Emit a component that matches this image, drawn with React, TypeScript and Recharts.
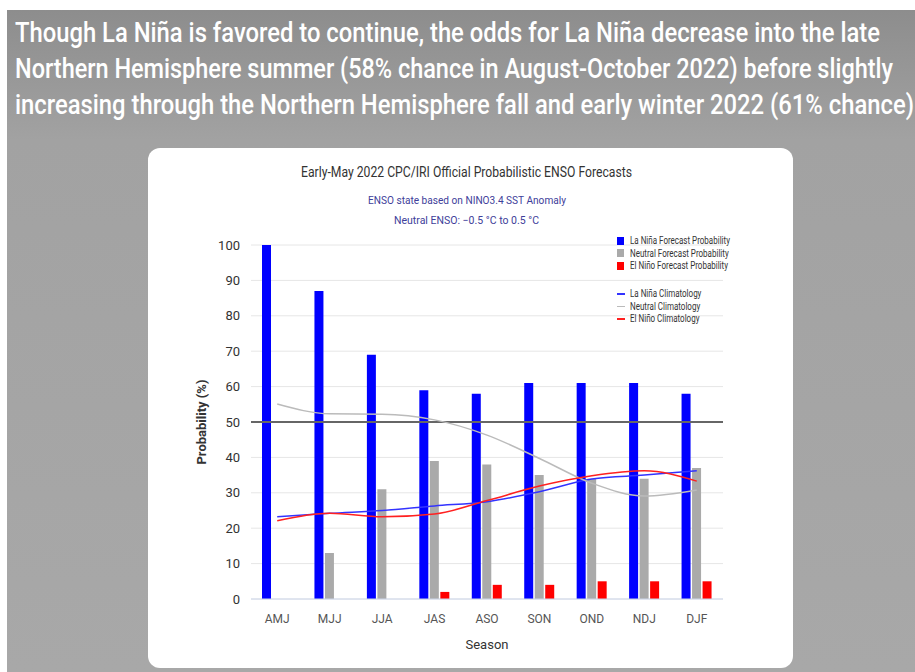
import {
  Bar,
  CartesianGrid,
  ComposedChart,
  Label,
  Legend,
  Line,
  ReferenceLine,
  XAxis,
  YAxis,
} from "recharts"

const seasons = ["AMJ", "MJJ", "JJA", "JAS", "ASO", "SON", "OND", "NDJ", "DJF"]
const laNina = [100, 87, 69, 59, 58, 61, 61, 61, 58]
const neutral = [0, 13, 31, 39, 38, 35, 34, 34, 37]
const elNino = [0, 0, 0, 2, 4, 4, 5, 5, 5]
const laNinaClim = [23.2, 24.2, 25, 26.3, 27.5, 30.3, 33.9, 35, 36.2]
const neutralClim = [55.1, 52.3, 52.2, 50.6, 46.3, 39.7, 32.7, 29.1, 30.8]
const elNinoClim = [22.1, 24.2, 23.2, 24, 27.8, 31.9, 34.8, 36.2, 33.3]
const yTicks = [0, 10, 20, 30, 40, 50, 60, 70, 80, 90, 100]

const headline = [
  "Though La Niña is favored to continue, the odds for La Niña decrease into the late",
  "Northern Hemisphere summer (58% chance in August-October 2022) before slightly",
  "increasing through the Northern Hemisphere fall and early winter 2022 (61% chance)",
]
const headlineWidths = [865, 878, 899]

const barLegend = [
  { name: "La Niña Forecast Probability", color: "#0000ff" },
  { name: "Neutral Forecast Probability", color: "#aaaaaa" },
  { name: "El Niño Forecast Probability", color: "#ff0000" },
]
const lineLegend = [
  { name: "La Niña Climatology", color: "#3333ff" },
  { name: "Neutral Climatology", color: "#bbbbbb" },
  { name: "El Niño Climatology", color: "#ff2020" },
]

const data = seasons.map((s, i) => ({
  season: s,
  laNina: laNina[i],
  neutral: neutral[i],
  elNino: elNino[i],
  laNinaClim: laNinaClim[i],
  neutralClim: neutralClim[i],
  elNinoClim: elNinoClim[i],
}))

const FONT = "Roboto, 'Liberation Sans', sans-serif"

function LegendBox() {
  const row = { display: "flex", alignItems: "center", height: 12.5, whiteSpace: "nowrap" as const }
  return (
    <div style={{ fontFamily: FONT, fontSize: 10, color: "#333" }}>
      {barLegend.map((p) => (
        <div key={p.name} style={row}>
          <span style={{ width: 7, height: 8, background: p.color, marginRight: 6, flex: "none" }} />
          <span style={{ display: "inline-block", transform: "scaleX(0.8)", transformOrigin: "left" }}>{p.name}</span>
        </div>
      ))}
      <div style={{ height: 15.5 }} />
      {lineLegend.map((p) => (
        <div key={p.name} style={row}>
          <span style={{ width: 8, height: 1.5, background: p.color, marginRight: 5, flex: "none" }} />
          <span style={{ display: "inline-block", transform: "scaleX(0.8)", transformOrigin: "left" }}>{p.name}</span>
        </div>
      ))}
    </div>
  )
}

export default function App() {
  return (
    <div
      style={{
        position: "fixed",
        left: 0,
        top: 0,
        width: 915,
        height: 672,
        background: "#fff",
        overflow: "hidden",
      }}
    >
      <div
        style={{
          position: "absolute",
          left: 7,
          top: 10,
          width: 908,
          height: 662,
          background: "linear-gradient(#8d8d8d 0px, #a2a2a2 130px, #a8a8a8 662px)",
        }}
      />
      <svg width={915} height={130} style={{ position: "absolute", left: 0, top: 0 }}>
        {headline.map((t, i) => (
          <text
            key={i}
            x={15}
            y={42 + i * 36}
            textLength={headlineWidths[i]}
            lengthAdjust="spacingAndGlyphs"
            fontFamily={FONT}
            fontWeight={500}
            fontSize={28}
            fill="#fff"
          >
            {t}
          </text>
        ))}
      </svg>
      <div
        style={{
          position: "absolute",
          left: 148,
          top: 148,
          width: 645,
          height: 520,
          background: "#fff",
          borderRadius: 12,
          overflow: "hidden",
        }}
      >
        <svg width={645} height={90} style={{ position: "absolute", left: 0, top: 0 }}>
          <text
            x={318.5}
            y={29}
            textAnchor="middle"
            textLength={331}
            lengthAdjust="spacingAndGlyphs"
            fontFamily={FONT}
            fontSize={14}
            fill="#333"
          >
            Early-May 2022 CPC/IRI Official Probabilistic ENSO Forecasts
          </text>
          <text
            x={319}
            y={56}
            textAnchor="middle"
            textLength={198}
            lengthAdjust="spacingAndGlyphs"
            fontFamily={FONT}
            fontSize={11}
            fill="#40409a"
          >
            ENSO state based on NINO3.4 SST Anomaly
          </text>
          <text
            x={318.5}
            y={76}
            textAnchor="middle"
            textLength={145}
            lengthAdjust="spacingAndGlyphs"
            fontFamily={FONT}
            fontSize={11}
            fill="#40409a"
          >
            Neutral ENSO: −0.5 °C to 0.5 °C
          </text>
        </svg>
        <ComposedChart
          width={645}
          height={520}
          data={data}
          margin={{ top: 97, right: 70, left: 43, bottom: 0 }}
          barGap={1.5}
          style={{ fontFamily: FONT }}
        >
          <CartesianGrid vertical={false} stroke="#e6e6e6" />
          <XAxis
            dataKey="season"
            height={69}
            tickLine={false}
            tickSize={0}
            tickMargin={15}
            axisLine={{ stroke: "#ccd6eb" }}
            tick={{ fontSize: 12, fill: "#555" }}
          >
            <Label value="Season" position="insideBottom" offset={19} style={{ fontSize: 13, fill: "#333" }} />
          </XAxis>
          <YAxis
            width={60}
            domain={[0, 100]}
            ticks={yTicks}
            axisLine={false}
            tickLine={false}
            tickSize={0}
            tickMargin={11}
            tick={{ fontSize: 13, fill: "#333" }}
          >
            <Label
              value="Probability (%)"
              angle={-90}
              position="insideLeft"
              offset={10}
              style={{ fontSize: 13, fontWeight: "bold", fill: "#333", textAnchor: "middle" }}
            />
          </YAxis>
          <ReferenceLine y={50} stroke="#666" strokeWidth={2} />
          <Bar dataKey="laNina" name="La Niña Forecast Probability" fill="#0000ff" barSize={9} isAnimationActive={false} />
          <Bar dataKey="neutral" name="Neutral Forecast Probability" fill="#aaaaaa" barSize={9} isAnimationActive={false} />
          <Bar dataKey="elNino" name="El Niño Forecast Probability" fill="#ff0000" barSize={9} isAnimationActive={false} />
          <Line
            type="monotone"
            dataKey="laNinaClim"
            name="La Niña Climatology"
            stroke="#3333ff"
            strokeWidth={1.5}
            dot={false}
            isAnimationActive={false}
          />
          <Line
            type="monotone"
            dataKey="neutralClim"
            name="Neutral Climatology"
            stroke="#bbbbbb"
            strokeWidth={1.5}
            dot={false}
            isAnimationActive={false}
          />
          <Line
            type="monotone"
            dataKey="elNinoClim"
            name="El Niño Climatology"
            stroke="#ff2020"
            strokeWidth={1.5}
            dot={false}
            isAnimationActive={false}
          />
          <Legend
            content={<LegendBox />}
            layout="vertical"
            align="center"
            verticalAlign="middle"
            wrapperStyle={{ position: "absolute", left: 469, top: 86.5, width: 130 }}
          />
        </ComposedChart>
      </div>
    </div>
  )
}
